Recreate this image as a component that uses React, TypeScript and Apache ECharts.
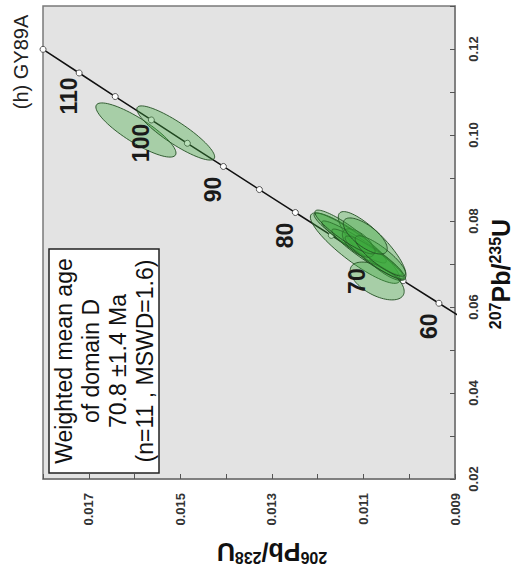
import React, { useEffect, useRef } from 'react';
import * as echarts from 'echarts';

// Concordia curve (ages in Ma and the two isotope ratios at each age)
const CONCORDIA_AGES = [55, 60, 65, 70, 75, 80, 85, 90, 95, 100, 105, 110, 115];
const CONCORDIA_206_238 = [0.008568, 0.009351, 0.010134, 0.010918, 0.011702, 0.012487, 0.013273, 0.014059, 0.014846, 0.015633, 0.016422, 0.01721, 0.017999];
const CONCORDIA_207_235 = [0.055661, 0.060872, 0.066109, 0.071371, 0.07666, 0.081975, 0.087316, 0.092683, 0.098077, 0.103498, 0.108945, 0.114419, 0.119921];
const LABELED_AGES = [60, 70, 80, 90, 100, 110];

// Analysed spots: centre, half-extent of the error ellipse and error correlation
const SPOT_206_238 = [0.01597, 0.0151, 0.01118, 0.01081, 0.0107, 0.01129, 0.01103, 0.0109, 0.01111, 0.01074, 0.0114, 0.01063, 0.01096];
const SPOT_207_235 = [0.10116, 0.10047, 0.0737, 0.07419, 0.06605, 0.07605, 0.07372, 0.07233, 0.07488, 0.0714, 0.07744, 0.07186, 0.07651];
const SPOT_ERR_206 = [0.000875, 0.00085, 0.00098, 0.00074, 0.00059, 0.00079, 0.00088, 0.00079, 0.00035, 0.00066, 0.00066, 0.00055, 0.00048];
const SPOT_ERR_207 = [0.0063, 0.0063, 0.0082, 0.008, 0.0044, 0.0058, 0.0063, 0.0058, 0.0033, 0.0051, 0.0051, 0.0047, 0.0042];
const SPOT_RHO = [0.85, 0.88, 0.88, 0.84, 0.55, 0.93, 0.95, 0.94, 0.6, 0.92, 0.9, 0.85, 0.7];

const X_TICK_LABELS = ['0.017', '0.015', '0.013', '0.011', '0.009'];
const Y_TICK_LABELS = ['0.02', '0.04', '0.06', '0.08', '0.10', '0.12'];

const INFO_LINES = ['Weighted mean age', 'of domain D', '70.8 \u00b11.4 Ma', '(n=11 , MSWD=1.6)'];
const PANEL_TITLE = '(h) GY89A';

const FONT = '"Liberation Sans", Arial, Helvetica, sans-serif';

export default function App() {
  const ref = useRef<HTMLDivElement>(null);

  useEffect(() => {
    if (!ref.current) return;
    const chart = echarts.init(ref.current, undefined, { renderer: 'svg' });

    const concordia = CONCORDIA_AGES.map((a, i) => [CONCORDIA_206_238[i], CONCORDIA_207_235[i], a]);
    const labels = LABELED_AGES.map((a) => {
      const i = CONCORDIA_AGES.indexOf(a);
      return [CONCORDIA_206_238[i], CONCORDIA_207_235[i], a];
    });
    const spots = SPOT_206_238.map((x, i) => [x, SPOT_207_235[i], SPOT_ERR_206[i], SPOT_ERR_207[i], SPOT_RHO[i]]);

    const bigRich = {
      s: { fontSize: 16, fontWeight: 'bold', fontFamily: FONT, fill: '#111', color: '#111', verticalAlign: 'top', lineHeight: 26 },
      b: { fontSize: 25, fontWeight: 'bold', fontFamily: FONT, fill: '#111', color: '#111', verticalAlign: 'bottom', lineHeight: 26 },
    };
    const axisTitle = '{s|206}{b|Pb/}{s|238}{b|U}';
    const axisTitle2 = '{s|207}{b|Pb/}{s|235}{b|U}';

    const option: any = {
      animation: false,
      backgroundColor: '#ffffff',
      grid: {
        left: 43, right: 60, top: 6, bottom: 101,
        show: true, backgroundColor: '#e3e3e3', borderColor: '#7a7a7a', borderWidth: 1.5,
      },
      xAxis: {
        type: 'value', position: 'bottom', inverse: true,
        min: 0.009, max: 0.018, interval: 0.001,
        axisLine: { show: true, onZero: false, lineStyle: { color: '#7a7a7a', width: 1.5 } },
        axisTick: { show: true, inside: true, length: 5, lineStyle: { color: '#555' } },
        splitLine: { show: false },
        axisLabel: {
          rotate: 90, margin: 14, fontSize: 13, fontWeight: 'bold', color: '#333', fontFamily: FONT,
          formatter: (v: number) => {
            const s = (Math.round(v * 1000) / 1000).toFixed(3);
            return X_TICK_LABELS.indexOf(s) >= 0 ? s : '';
          },
        },
      },
      yAxis: {
        type: 'value', position: 'right',
        min: 0.02, max: 0.13, interval: 0.01,
        axisLine: { show: true, onZero: false, lineStyle: { color: '#7a7a7a', width: 1.5 } },
        axisTick: { show: true, inside: true, length: 5, lineStyle: { color: '#555' } },
        splitLine: { show: false },
        axisLabel: {
          rotate: 90, margin: 12, fontSize: 13, fontWeight: 'bold', color: '#333', fontFamily: FONT,
          formatter: (v: number) => {
            const s = (Math.round(v * 100) / 100).toFixed(2);
            return Y_TICK_LABELS.indexOf(s) >= 0 ? s : '';
          },
        },
      },
      series: [
        {
          type: 'line',
          data: concordia,
          clip: true,
          symbol: 'circle',
          symbolSize: 6,
          showAllSymbol: true,
          lineStyle: { color: '#111', width: 1.5 },
          itemStyle: { color: '#ffffff', borderColor: '#555', borderWidth: 1 },
          z: 2,
        },
        {
          type: 'custom',
          data: spots,
          clip: true,
          encode: { x: 0, y: 1 },
          z: 3,
          renderItem: (_p: any, api: any) => {
            const cx = api.value(0), cy = api.value(1), sx = api.value(2), sy = api.value(3), r = api.value(4);
            const q = Math.sqrt(1 - r * r);
            const pts: number[][] = [];
            for (let k = 0; k < 80; k++) {
              const t = (k / 80) * Math.PI * 2;
              const dx = sx * Math.cos(t);
              const dy = sy * (r * Math.cos(t) + q * Math.sin(t));
              pts.push(api.coord([cx + dx, cy + dy]));
            }
            return {
              type: 'polygon',
              shape: { points: pts },
              style: { fill: 'rgba(60,170,60,0.36)', stroke: 'rgba(35,80,35,0.9)', lineWidth: 1 },
            };
          },
        },
        {
          type: 'custom',
          data: labels,
          encode: { x: 0, y: 1 },
          z: 5,
          renderItem: (_p: any, api: any) => {
            const p = api.coord([api.value(0), api.value(1)]);
            return {
              type: 'text',
              x: p[0] - 10,
              y: p[1] + 23,
              rotation: Math.PI / 2,
              style: {
                text: String(api.value(2)),
                fontSize: 23, fontWeight: 'bold', fontFamily: FONT, fill: '#1a1a1a',
                align: 'center', verticalAlign: 'middle', textAlign: 'center', textVerticalAlign: 'middle',
              },
            };
          },
        },
      ],
      graphic: [
        {
          type: 'rect', z: 10,
          shape: { x: 49, y: 249, width: 110, height: 224 },
          style: { fill: '#ffffff', stroke: '#222', lineWidth: 1.5 },
        },
        {
          type: 'text', z: 11, x: 104, y: 361, rotation: Math.PI / 2,
          style: {
            text: INFO_LINES.join('\n'), fontSize: 23, lineHeight: 27, fontFamily: FONT, fill: '#111',
            align: 'center', verticalAlign: 'middle', textAlign: 'center', textVerticalAlign: 'middle',
          },
        },
        {
          type: 'text', z: 11, x: 21, y: 62, rotation: Math.PI / 2,
          style: {
            text: PANEL_TITLE, fontSize: 20, fontFamily: FONT, fill: '#222',
            align: 'center', verticalAlign: 'middle', textAlign: 'center', textVerticalAlign: 'middle',
          },
        },
        {
          type: 'text', z: 11, x: 272, y: 552, rotation: Math.PI,
          style: {
            text: axisTitle, rich: bigRich, fontFamily: FONT, fill: '#111',
            align: 'center', verticalAlign: 'middle', textAlign: 'center', textVerticalAlign: 'middle',
          },
        },
        {
          type: 'text', z: 11, x: 500, y: 274, rotation: Math.PI / 2,
          style: {
            text: axisTitle2, rich: bigRich, fontFamily: FONT, fill: '#111',
            align: 'center', verticalAlign: 'middle', textAlign: 'center', textVerticalAlign: 'middle',
          },
        },
      ],
    };

    chart.setOption(option);
    return () => chart.dispose();
  }, []);

  return (
    <div
      ref={ref}
      style={{ position: 'absolute', left: 0, top: 0, width: 515, height: 580, background: '#fff' }}
    />
  );
}
